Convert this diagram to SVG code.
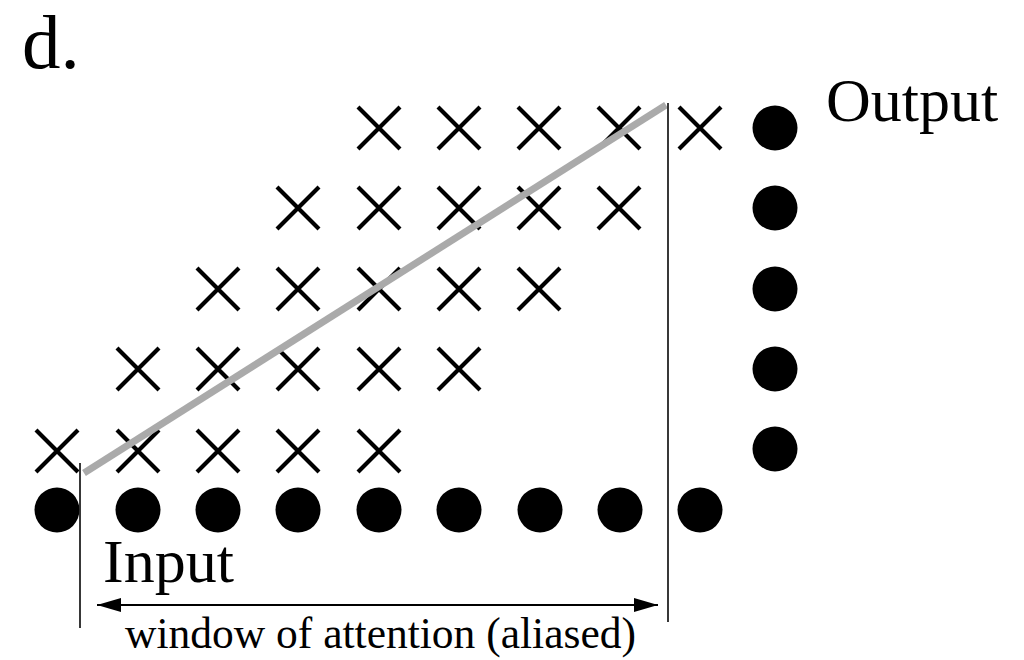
<svg xmlns="http://www.w3.org/2000/svg" width="1024" height="660" viewBox="0 0 1024 660">
<style>
.cross{stroke:#000;stroke-width:4.2;fill:none}
.dot{fill:#000}
.edge{stroke:#222;stroke-width:1.8;fill:none}
.gray{stroke:#aaa;stroke-width:7;fill:none}
</style>
<defs>
<path id="x" class="cross" d="M-21,-21L21,21M-21,21L21,-21"/>
<circle id="d" class="dot" r="22.5"/>
<marker id="ah" viewBox="0 0 24 14" refX="24" refY="7" markerWidth="24" markerHeight="14" markerUnits="userSpaceOnUse" orient="auto-start-reverse">
<path d="M0,0L24,7L0,14Z" fill="#000"/>
</marker>
</defs>
<rect width="1024" height="660" fill="#fff"/>
<g font-family="Liberation Serif, Times New Roman, DejaVu Serif, serif" fill="#000">
<text x="22" y="68" font-size="77">d.</text>
<text x="103" y="582" font-size="62">Input</text>
<text x="826" y="121" font-size="62">Output</text>
<text x="380.5" y="648" font-size="43.5" text-anchor="middle">window of attention (aliased)</text>
</g>
<g id="input-dots">
<g id="in0"><use href="#d" x="57" y="510"/></g>
<g id="in1"><use href="#d" x="138" y="510"/></g>
<g id="in2"><use href="#d" x="218" y="510"/></g>
<g id="in3"><use href="#d" x="298" y="510"/></g>
<g id="in4"><use href="#d" x="379" y="510"/></g>
<g id="in5"><use href="#d" x="459" y="510"/></g>
<g id="in6"><use href="#d" x="540" y="510"/></g>
<g id="in7"><use href="#d" x="620" y="510"/></g>
<g id="in8"><use href="#d" x="700" y="510"/></g>
</g>
<g id="output-dots">
<g id="out0"><use href="#d" x="775" y="128"/></g>
<g id="out1"><use href="#d" x="775" y="208"/></g>
<g id="out2"><use href="#d" x="775" y="289"/></g>
<g id="out3"><use href="#d" x="775" y="369"/></g>
<g id="out4"><use href="#d" x="775" y="449"/></g>
</g>
<g id="crosses">
<g id="r1"><use href="#x" x="379" y="128"/><use href="#x" x="459" y="128"/><use href="#x" x="539" y="128"/><use href="#x" x="619" y="128"/><use href="#x" x="700" y="128"/></g>
<g id="r2"><use href="#x" x="298" y="208"/><use href="#x" x="379" y="208"/><use href="#x" x="459" y="208"/><use href="#x" x="539" y="208"/><use href="#x" x="619" y="208"/></g>
<g id="r3"><use href="#x" x="218" y="289"/><use href="#x" x="298" y="289"/><use href="#x" x="379" y="289"/><use href="#x" x="459" y="289"/><use href="#x" x="539" y="289"/></g>
<g id="r4"><use href="#x" x="138" y="369"/><use href="#x" x="218" y="369"/><use href="#x" x="298" y="369"/><use href="#x" x="379" y="369"/><use href="#x" x="459" y="369"/></g>
<g id="r5"><use href="#x" x="57" y="451"/><use href="#x" x="138" y="451"/><use href="#x" x="218" y="451"/><use href="#x" x="298" y="451"/><use href="#x" x="379" y="451"/></g>
</g>
<g id="connectors">
<line class="gray" x1="84" y1="473" x2="666" y2="105"/>
<line class="edge" x1="80" y1="463" x2="80" y2="628"/>
<line class="edge" x1="668" y1="103" x2="668" y2="622"/>
<line stroke="#000" stroke-width="2" x1="97" y1="605" x2="658" y2="605" marker-start="url(#ah)" marker-end="url(#ah)"/>
</g>
</svg>
